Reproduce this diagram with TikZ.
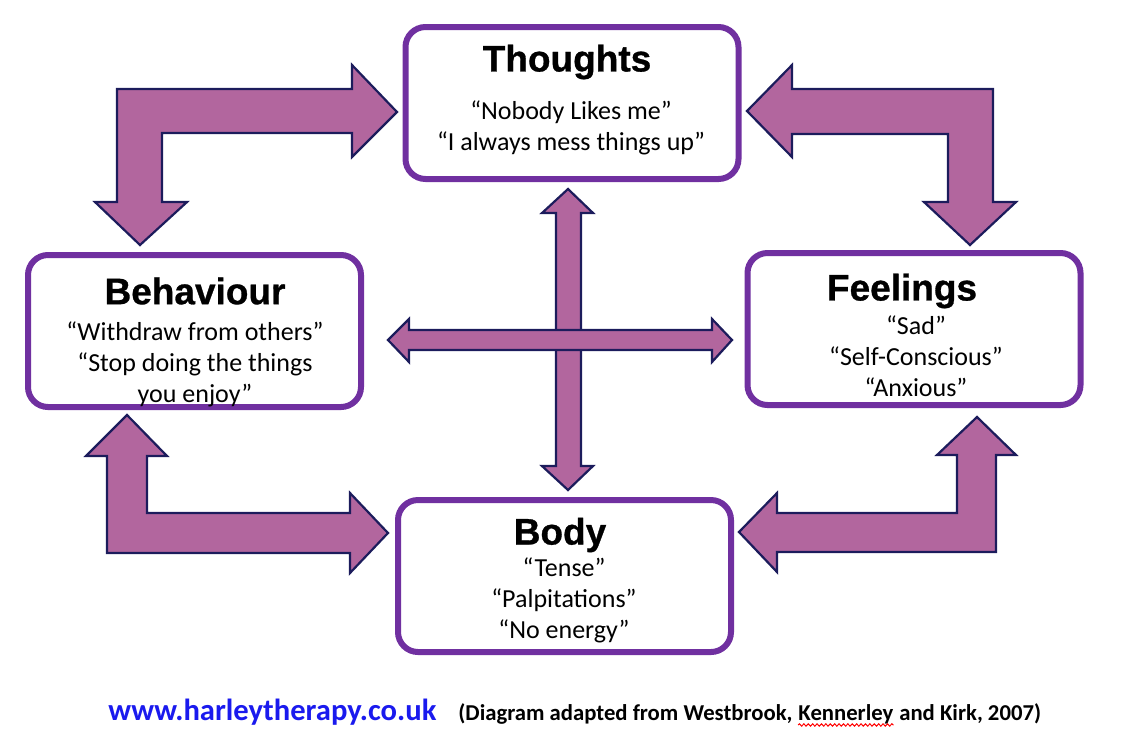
\documentclass[tikz,border=0pt]{standalone}
\usepackage{fontspec}
\setmainfont{Carlito}
\newfontfamily\headfont[BoldFeatures={FakeBold=0.8}]{Liberation Sans}
\usetikzlibrary{positioning,decorations.pathmorphing}
\definecolor{boxpurple}{HTML}{7030A0}
\definecolor{mauve}{HTML}{B2669E}
\definecolor{navy}{HTML}{1C1C5C}
\definecolor{linkblue}{HTML}{1A1AEE}

\begin{document}
\begin{tikzpicture}[x=0.5pt,y=-0.5pt]
\tikzset{box/.style={draw=boxpurple,line width=3pt,rounded corners=10pt,fill=white,minimum width=166.5pt,minimum height=76pt,inner sep=0pt},
 blk/.style={draw=navy,line width=1.1pt,fill=mauve,line join=miter},
 ttl/.style={font=\headfont\bfseries\fontsize{18.5}{20}\selectfont,inner sep=0pt},
 txt/.style={align=center,font=\fontsize{13}{15.5}\selectfont,inner sep=0pt},
 foot/.style={font=\bfseries\fontsize{11.35}{13}\selectfont,inner sep=0pt}}
\useasboundingbox (0,0) rectangle (1124,746);
% bent block arrows
\draw[blk] (117,89)--(352,89)--(352,65)--(397,112)--(352,157)--(352,133)--(162,133)--(162,202)--(187,202)--(140,245)--(95,202)--(117,202)--cycle;
\draw[blk] (993,89)--(792,89)--(792,65)--(747,111)--(792,157)--(792,134)--(948,134)--(948,202)--(924,202)--(970,245)--(1016,202)--(993,202)--cycle;
\draw[blk] (107,553)--(350,553)--(350,573)--(388,533)--(350,493)--(350,513)--(147,513)--(147,456)--(167,456)--(127,415)--(86,456)--(107,456)--cycle;
\draw[blk] (996,552)--(777,552)--(777,572)--(739,532)--(777,493)--(777,513)--(957,513)--(957,455)--(937,455)--(977,417)--(1016,455)--(996,455)--cycle;
% cross in the middle
\draw[blk] (568,189)--(593,213)--(581,213)--(581,466)--(593,466)--(568,490)--(542,466)--(556,466)--(556,213)--(542,213)--cycle;
\draw[blk] (388,340)--(409,319)--(409,330)--(712,330)--(712,319)--(732,340)--(712,362)--(712,350)--(409,350)--(409,362)--cycle;
% the four boxes
\node[box] (th) at (572,103) {};
\node[box] (beh) at (194.5,331) {};
\node[box] (feel) at (914,329) {};
\node[box] (body) at (564.5,576) {};
\node[ttl] (thT) at (567,62) {Thoughts};
\node[txt] (thL) at (571,128) {“Nobody Likes me”\\“I always mess things up”};
\node[ttl] (behT) at (195,291) {Behaviour};
\node[txt] (behL) at (195,364) {“Withdraw from others”\\“Stop doing the things\\you enjoy”};
\node[ttl] (feelT) at (902,291) {Feelings};
\node[txt] (feelL) at (916,356) {“Sad”\\“Self-Conscious”\\“Anxious”};
\node[ttl] (bodyT) at (560,535) {Body};
\node[txt] (bodyL) at (564,600) {“Tense”\\“Palpitations”\\“No energy”};
% footer
\node[foot,anchor=base west,font=\bfseries\fontsize{15.3}{17}\selectfont,text=linkblue] (url) at (108,720) {www.harleytherapy.co.uk};
\node[foot,anchor=base west] (ft1) at (458,720) {(Diagram adapted from Westbrook,};
\node[foot,base right=2.6pt of ft1] (ken) {Kennerley};
\node[foot,base right=2.6pt of ken] (ft2) {and Kirk, 2007)};
\draw[red,line width=0.5pt,decorate,decoration={snake,amplitude=0.6pt,segment length=2.2pt}] ([yshift=-0.5pt]ken.south west)--([yshift=-0.5pt]ken.south east);
\end{tikzpicture}
\end{document}
